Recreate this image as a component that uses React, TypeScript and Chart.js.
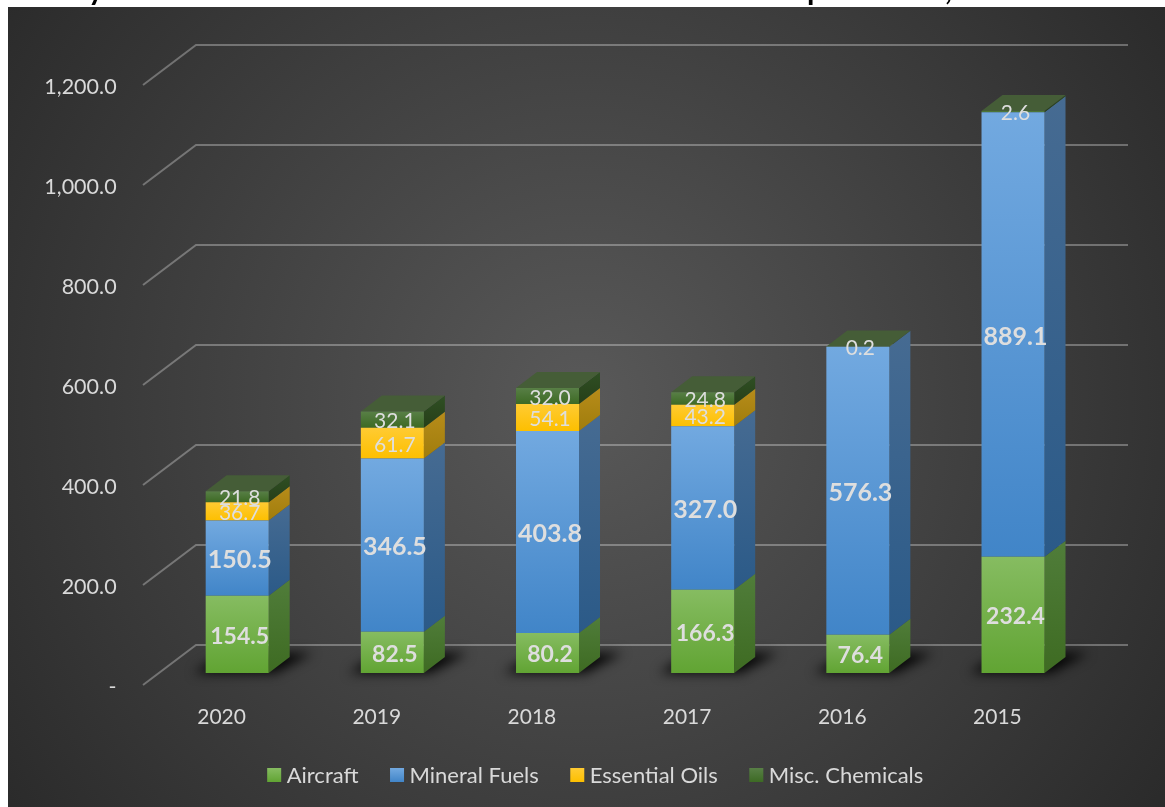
import React, { useEffect, useRef } from "react";
import { Chart, registerables } from "chart.js";

Chart.register(...registerables);

const years = ["2020", "2019", "2018", "2017", "2016", "2015"];
const aircraft = [154.5, 82.5, 80.2, 166.3, 76.4, 232.4];
const mineralFuels = [150.5, 346.5, 403.8, 327.0, 576.3, 889.1];
const essentialOils = [36.7, 61.7, 54.1, 43.2, null, null];
const miscChemicals = [21.8, 32.1, 32.0, 24.8, 0.2, 2.6];
const seriesNames = ["Aircraft", "Mineral Fuels", "Essential Oils", "Misc. Chemicals"];
const seriesValues = [aircraft, mineralFuels, essentialOils, miscChemicals];
const yTickStep = 200;
const titleDescenders = [
  { text: "y", x: 88 },
  { text: "p", x: 807 },
  { text: ",", x: 945 },
];

const FONT = "Lato, Carlito, Calibri, sans-serif";
const TEXT = "#d9d9d9";
const LABEL = "#dedede";
const labelFonts = ["bold 23px", "bold 25px", "21px", "21px"];

const frontColors = [
  ["#86bc61", "#61a433"],
  ["#72a9e0", "#4185c8"],
  ["#ffcb33", "#fdbf00"],
  ["#587f46", "#3d6a24"],
];
const sideColors = [
  ["#507d3a", "#3e6b22"],
  ["#466b92", "#2b5a88"],
  ["#b78c1a", "#a07d0c"],
  ["#2f4f24", "#263f18"],
];
const topColor = "#455d37";

const BAR_DX = 21;
const BAR_DY = 16;
const LEGEND_SHIFT = 27.5;

const valueOf = (list, i) => list[i] ?? 0;

function segmentGradient(ctx, yTop, yBottom, pair) {
  const g = ctx.createLinearGradient(0, yTop, 0, yBottom);
  g.addColorStop(0, pair[0]);
  g.addColorStop(1, pair[1]);
  return g;
}

function frontFill(c, seriesIndex) {
  const { chart, dataIndex } = c;
  const y = chart.scales?.y;
  if (!y || !chart.chartArea || dataIndex === undefined) return frontColors[seriesIndex][0];
  let base = 0;
  for (let s = 0; s < seriesIndex; s++) base += valueOf(seriesValues[s], dataIndex);
  const top = base + valueOf(seriesValues[seriesIndex], dataIndex);
  return segmentGradient(
    chart.ctx,
    y.getPixelForValue(top),
    y.getPixelForValue(base),
    frontColors[seriesIndex]
  );
}

const backdropPlugin = {
  id: "backdrop",
  afterLayout(chart) {
    // the legend sits off-centre relative to the plot, as in the reference
    const legend = chart.legend;
    if (legend) {
      legend.left += LEGEND_SHIFT;
      legend.right += LEGEND_SHIFT;
      legend.legendHitBoxes.forEach((hb) => {
        hb.left += LEGEND_SHIFT;
      });
    }
  },
  beforeDraw(chart) {
    const { ctx, width, height } = chart;
    ctx.save();
    ctx.fillStyle = "#ffffff";
    ctx.fillRect(0, 0, width, height);
    ctx.fillStyle = "#000000";
    ctx.font = `bold 30px ${FONT}`;
    ctx.textBaseline = "alphabetic";
    ctx.textAlign = "left";
    titleDescenders.forEach((t) => ctx.fillText(t.text, t.x, 0));
    const cx = 583;
    const cy = 400;
    const g = ctx.createRadialGradient(cx, cy, 0, cx, cy, 715);
    g.addColorStop(0, "#595959");
    g.addColorStop(1, "#2a2a2a");
    ctx.fillStyle = g;
    ctx.fillRect(8, 7, width - 8, height - 7);
    ctx.restore();
  },
};

const depthPlugin = {
  id: "depth",
  beforeDatasetsDraw(chart) {
    const { ctx, chartArea } = chart;
    const y = chart.scales.y;
    ctx.save();

    // receding grid lines
    const frontLeft = chartArea.left - 16.6;
    const backLeft = frontLeft + 53;
    const backRight = chartArea.right + 37.4;
    ctx.strokeStyle = "rgba(255,255,255,0.3)";
    ctx.lineWidth = 2;
    y.ticks.forEach((t) => {
      const py = y.getPixelForValue(t.value);
      ctx.beginPath();
      ctx.moveTo(frontLeft, py + 12);
      ctx.lineTo(backLeft, py - 28);
      ctx.lineTo(backRight, py - 28);
      ctx.stroke();
    });

    // floor shadows
    const baseMeta = chart.getDatasetMeta(0);
    baseMeta.data.forEach((bar) => {
      const half = bar.width / 2;
      const xL = bar.x - half;
      const xR = bar.x + half;
      const b = bar.base;
      ctx.save();
      ctx.filter = "blur(6px)";
      ctx.fillStyle = "rgba(0,0,0,0.95)";
      ctx.beginPath();
      ctx.moveTo(xL - 12, b);
      ctx.lineTo(xR + 6, b);
      ctx.lineTo(xR + 44, b - 20);
      ctx.lineTo(xL + 20, b - 20);
      ctx.closePath();
      ctx.fill();
      ctx.restore();
    });

    // side and top faces
    years.forEach((_, i) => {
      let topBar = null;
      seriesNames.forEach((_, s) => {
        if (seriesValues[s][i] == null) return;
        const bar = chart.getDatasetMeta(s).data[i];
        const xR = bar.x + bar.width / 2;
        ctx.fillStyle = segmentGradient(ctx, bar.y - BAR_DY, bar.base, sideColors[s]);
        ctx.beginPath();
        ctx.moveTo(xR, bar.y);
        ctx.lineTo(xR + BAR_DX, bar.y - BAR_DY);
        ctx.lineTo(xR + BAR_DX, bar.base - BAR_DY);
        ctx.lineTo(xR, bar.base);
        ctx.closePath();
        ctx.fill();
        topBar = bar;
      });
      if (topBar) {
        const xL = topBar.x - topBar.width / 2;
        const xR = topBar.x + topBar.width / 2;
        ctx.fillStyle = topColor;
        ctx.beginPath();
        ctx.moveTo(xL, topBar.y);
        ctx.lineTo(xL + BAR_DX, topBar.y - BAR_DY);
        ctx.lineTo(xR + BAR_DX, topBar.y - BAR_DY);
        ctx.lineTo(xR, topBar.y);
        ctx.closePath();
        ctx.fill();
      }
    });
    ctx.restore();
  },
  afterDatasetsDraw(chart) {
    const { ctx } = chart;
    ctx.save();
    ctx.textAlign = "center";
    ctx.textBaseline = "middle";
    ctx.fillStyle = LABEL;
    seriesNames.forEach((_, s) => {
      ctx.font = `${labelFonts[s]} ${FONT}`;
      chart.getDatasetMeta(s).data.forEach((bar, i) => {
        const v = seriesValues[s][i];
        if (v == null) return;
        ctx.fillText(v.toFixed(1), bar.x + 2.5, (bar.y + bar.base) / 2 + 2);
      });
    });
    ctx.restore();
  },
  afterDraw(chart) {
    const { ctx } = chart;
    const boxes = chart.legend?.legendHitBoxes ?? [];
    ctx.save();
    boxes.forEach((hb, s) => {
      const yTop = 768;
      ctx.fillStyle = segmentGradient(ctx, yTop, yTop + 14, frontColors[s]);
      ctx.fillRect(hb.left + 5.5, yTop, 14, 14);
    });
    ctx.restore();
  },
};

export default function App() {
  const ref = useRef<HTMLCanvasElement>(null);

  useEffect(() => {
    if (!ref.current) return;
    const chart = new Chart(ref.current, {
      type: "bar",
      data: {
        labels: years,
        datasets: seriesNames.map((name, s) => ({
          label: name,
          data: seriesValues[s],
          backgroundColor: (c) => frontFill(c, s),
          borderWidth: 0,
          barPercentage: 1,
          categoryPercentage: 0.406,
        })),
      },
      options: {
        responsive: false,
        animation: false,
        layout: { padding: { top: 73, left: 39.4, right: 74.4, bottom: 10 } },
        scales: {
          x: {
            stacked: true,
            grid: { display: false },
            border: { display: false },
            afterFit: (s) => {
              s.height = 66;
            },
            ticks: {
              color: TEXT,
              font: { family: FONT, size: 21 },
              padding: 24,
              labelOffset: -15.6,
              autoSkip: false,
              maxRotation: 0,
            },
          },
          y: {
            stacked: true,
            min: 0,
            max: 1200,
            grid: { display: false },
            border: { display: false },
            afterFit: (s) => {
              s.width = 120.2;
            },
            ticks: {
              stepSize: yTickStep,
              color: TEXT,
              font: { family: FONT, size: 21.5 },
              padding: 35,
              labelOffset: 14,
              callback: (v) =>
                v === 0
                  ? "-"
                  : Number(v).toLocaleString("en-US", {
                      minimumFractionDigits: 1,
                      maximumFractionDigits: 1,
                    }),
            },
          },
        },
        plugins: {
          title: { display: false },
          tooltip: { enabled: false },
          legend: {
            display: true,
            position: "bottom",
            labels: {
              color: TEXT,
              font: { family: FONT, size: 22 },
              boxWidth: 14,
              boxHeight: 14,
              padding: 26,
              generateLabels: (ch) =>
                ch.data.datasets.map((d, i) => ({
                  text: d.label,
                  fillStyle: "rgba(0,0,0,0)",
                  strokeStyle: "rgba(0,0,0,0)",
                  fontColor: TEXT,
                  lineWidth: 0,
                  datasetIndex: i,
                })),
            },
          },
        },
      },
      plugins: [backdropPlugin, depthPlugin],
    });
    return () => chart.destroy();
  }, []);

  return (
    <div style={{ position: "absolute", left: 0, top: 0, width: 1165, height: 807, overflow: "hidden", background: "#fff" }}>
      <canvas ref={ref} width={1165} height={807} style={{ display: "block" }} />
    </div>
  );
}
